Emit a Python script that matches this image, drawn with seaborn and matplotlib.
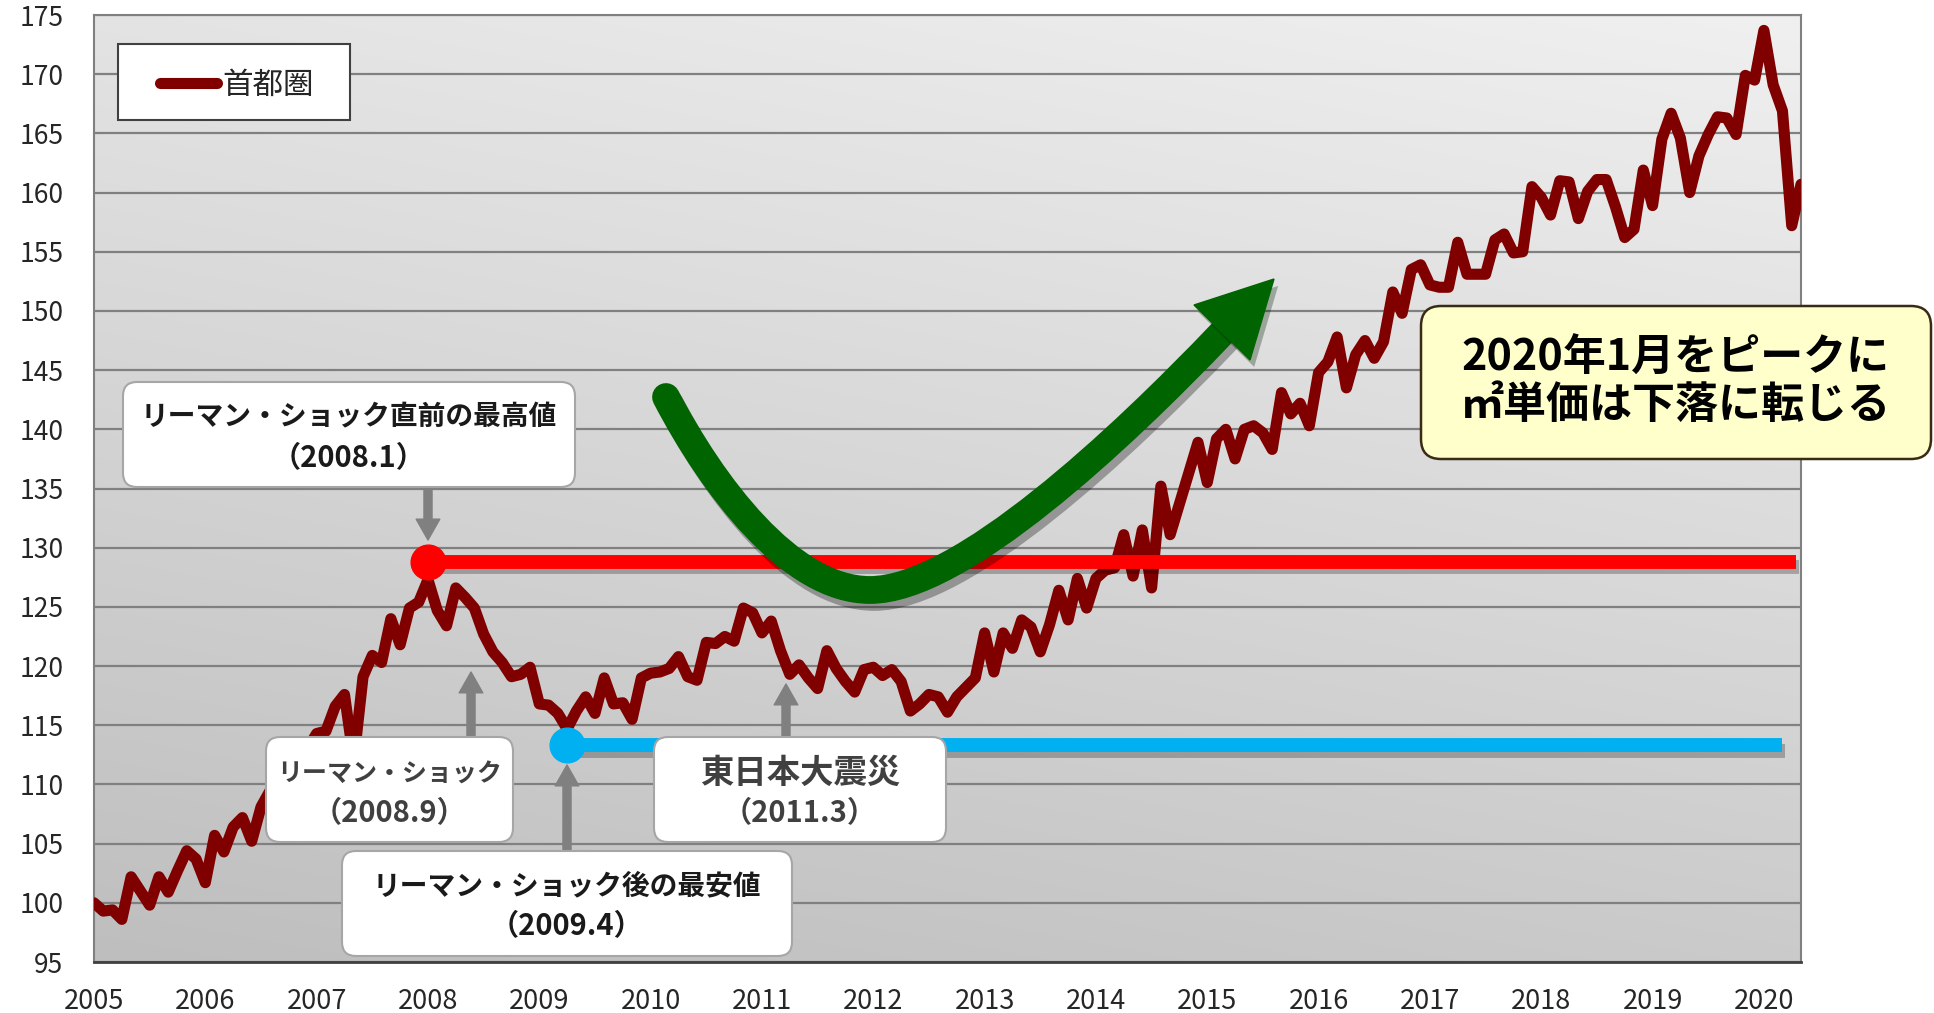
import numpy as np
import pandas as pd
import matplotlib
matplotlib.use('Agg')
import matplotlib.pyplot as plt
import matplotlib.patheffects as pe
from matplotlib.patches import FancyBboxPatch, FancyArrowPatch, PathPatch, Polygon
from matplotlib.path import Path
import seaborn as sns

# データ（2005年1月=100 の月次指数、2005.1〜2020.5）
month_idx = list(range(185))
price_index = [
    100.0, 99.3, 99.4, 98.6, 102.2, 101.0, 99.8, 102.2, 100.9, 102.7, 104.4, 103.7,   # 2005
    101.7, 105.7, 104.3, 106.4, 107.2, 105.2, 108.1, 109.5, 108.8, 111.0, 110.5, 113.0,  # 2006
    114.3, 114.5, 116.6, 117.6, 112.0, 119.1, 120.9, 120.3, 124.0, 121.8, 124.9, 125.4,  # 2007
    127.3, 124.7, 123.4, 126.6, 125.8, 124.9, 122.7, 121.2, 120.3, 119.1, 119.3, 119.9,  # 2008
    116.8, 116.7, 116.0, 114.7, 116.2, 117.4, 116.0, 119.0, 116.8, 116.9, 115.5, 119.0,  # 2009
    119.4, 119.5, 119.8, 120.8, 119.1, 118.8, 122.0, 121.9, 122.5, 122.1, 124.9, 124.5,  # 2010
    122.8, 123.8, 121.3, 119.3, 120.1, 119.0, 118.1, 121.3, 119.8, 118.7, 117.8, 119.7,  # 2011
    119.9, 119.2, 119.7, 118.7, 116.2, 116.8, 117.6, 117.4, 116.1, 117.4, 118.2, 119.0,  # 2012
    122.8, 119.5, 122.8, 121.5, 123.9, 123.3, 121.2, 123.5, 126.4, 123.9, 127.4, 124.9,  # 2013
    127.4, 128.1, 128.3, 131.1, 127.6, 131.5, 126.6, 135.2, 131.1, 133.7, 136.3, 138.9,  # 2014
    135.5, 139.2, 140.0, 137.5, 140.0, 140.3, 139.7, 138.3, 143.1, 141.3, 142.2, 140.3,  # 2015
    144.8, 145.7, 147.8, 143.5, 146.3, 147.5, 146.0, 147.4, 151.6, 149.8, 153.5, 153.9,  # 2016
    152.2, 152.0, 152.0, 155.8, 153.1, 153.1, 153.1, 156.0, 156.5, 154.9, 155.0, 160.5,  # 2017
    159.6, 158.1, 161.0, 160.9, 157.8, 160.1, 161.1, 161.1, 158.8, 156.2, 156.9, 161.9,  # 2018
    158.9, 164.5, 166.7, 164.6, 160.0, 163.1, 164.9, 166.4, 166.3, 164.9, 169.9, 169.5,  # 2019
    173.7, 169.1, 166.9, 157.2, 160.7,                                                   # 2020
]
year_labels = [str(y) for y in range(2005, 2021)]
year_ticks = [12 * k for k in range(len(year_labels))]
y_ticks = list(range(95, 176, 5))

# 目印の位置（月インデックス）と水準
peak_month = 36      # 2008.1
bottom_month = 51    # 2009.4
peak_level = 128.8
bottom_level = 113.3
red_end = 183.5
blue_end = 182

df = pd.DataFrame({'月': month_idx, '首都圏': price_index})

sns.set_style('white')
plt.rcParams['font.family'] = ['Noto Sans CJK JP', 'DejaVu Sans']

W, H = 1934, 1013
fig = plt.figure(figsize=(W / 100, H / 100), dpi=100)
ax = fig.add_axes([94 / W, 1 - 962 / H, 1707 / W, 947 / H])

# 背景のグラデーション
gx, gy = np.meshgrid(np.linspace(0, 1, 200), np.linspace(0, 1, 200))
shade = (190 + 50 * (0.75 * gy + 0.25 * gx)) / 255
ax.imshow(np.dstack([shade] * 3), extent=(0, 1, 0, 1), transform=ax.transAxes,
          origin='lower', aspect='auto', zorder=0, interpolation='bilinear')

# 折れ線
sns.lineplot(data=df, x='月', y='首都圏', color='#800000', linewidth=8,
             label='首都圏', ax=ax, zorder=3, solid_joinstyle='round',
             solid_capstyle='round')

shadow = [pe.SimpleLineShadow(offset=(2, -4), shadow_color='k', alpha=0.25), pe.Normal()]

# 最高値・最安値ライン
ax.plot([peak_month, red_end], [peak_level, peak_level], color='#FF0000', lw=10,
        solid_capstyle='butt', zorder=4, path_effects=shadow)
ax.plot([peak_month], [peak_level], 'o', color='#FF0000', ms=25, zorder=5)
ax.plot([bottom_month, blue_end], [bottom_level, bottom_level], color='#00B0F0', lw=10,
        solid_capstyle='butt', zorder=4, path_effects=shadow)
ax.plot([bottom_month], [bottom_level], 'o', color='#00B0F0', ms=25, zorder=5)

ax.set_xlim(0, 184)
ax.set_ylim(95, 175)
ax.set_xticks(year_ticks)
ax.set_xticklabels(year_labels)
ax.set_xticks(month_idx, minor=True)
ax.set_yticks(y_ticks)
ax.set_xlabel('')
ax.set_ylabel('')
ax.tick_params(axis='x', which='both', direction='in', length=6, width=1.2,
               color='#404040', labelsize=19.5, pad=19)
ax.tick_params(axis='y', length=0, labelsize=19, pad=22)
ax.set_axisbelow(True)
ax.yaxis.grid(True, color='#808080', lw=1.6)
ax.xaxis.grid(False)
for s in ['left', 'top', 'right']:
    ax.spines[s].set_color('#808080')
    ax.spines[s].set_linewidth(1.5)
ax.spines['bottom'].set_color('#404040')
ax.spines['bottom'].set_linewidth(2)


def fxy(x, y):
    return x / W, 1 - y / H


def ax_xy(x, y):
    return (x - 94) / 1707, 1 - (y - 15) / 947


def box(x0, y0, x1, y1, face, edge, r, lw=1.5, z=6):
    p = FancyBboxPatch((x0 / W, 1 - y1 / H), (x1 - x0) / W, (y1 - y0) / H,
                       boxstyle=f'round,pad=0,rounding_size={r / W}', mutation_aspect=W / H,
                       facecolor=face, edgecolor=edge, lw=lw, transform=fig.transFigure,
                       zorder=z)
    fig.add_artist(p)
    return p


def gray_arrow(x, y_tail, y_tip):
    a = FancyArrowPatch(fxy(x, y_tail), fxy(x, y_tip),
                        arrowstyle='simple,head_width=1.7,head_length=1.5,tail_width=0.58',
                        mutation_scale=10, color='#808080', shrinkA=0, shrinkB=0,
                        transform=fig.transFigure, zorder=5)
    fig.add_artist(a)


def label(x, y, s, size, color='#1a1a1a', weight='bold'):
    fig.text(x / W, 1 - y / H, s, ha='center', va='center', fontsize=size,
             color=color, fontweight=weight, zorder=7)


# 凡例（枠は別に描く）
legend_frame = FancyBboxPatch(ax_xy(118, 120), 232 / 1707, 76 / 947,
                              boxstyle='square,pad=0', facecolor='white',
                              edgecolor='#404040', lw=1.5, transform=ax.transAxes, zorder=6)
ax.add_patch(legend_frame)
leg = ax.legend(loc='center left', bbox_to_anchor=ax_xy(160, 85), borderaxespad=0,
                fontsize=22, handlelength=1.85, handletextpad=0.2, borderpad=0,
                frameon=False)
leg.set_zorder(7)
for h in leg.get_lines():
    h.set_linewidth(8)

# 吹き出し
box(123, 382, 575, 487, 'white', '#a6a6a6', 14)
label(349, 417, 'リーマン・ショック直前の最高値', 20)
label(349, 458, '（2008.1）', 21)
gray_arrow(428, 489, 540)

box(266, 737, 513, 842, 'white', '#a6a6a6', 14)
label(389.5, 775, 'リーマン・ショック', 18, color='#404040')
label(389.5, 813, '（2008.9）', 21, color='#404040')
gray_arrow(471, 736, 672)

box(342, 851, 792, 956, 'white', '#a6a6a6', 14)
label(567, 886, 'リーマン・ショック後の最安値', 20)
label(567, 926, '（2009.4）', 21)
gray_arrow(567, 851, 765)

box(654, 737, 946, 842, 'white', '#a6a6a6', 14)
label(800, 773, '東日本大震災', 24, color='#404040')
label(800, 813, '（2011.3）', 21, color='#404040')
gray_arrow(786, 736, 684)

box(1421, 306, 1931, 459, '#FFFFCC', '#3b2a14', 20, lw=1.8)
label(1676, 358, '2020年1月をピークに', 31, color='black')
label(1676, 405, '㎡単価は下落に転じる', 31, color='black')

# 緑の矢印（下落→回復）
pts = [(666, 397), (712, 485), (790, 590), (870, 590), (960, 590), (1120, 440), (1222, 333)]
codes = [Path.MOVETO] + [Path.CURVE4] * 6
green_path = Path([fxy(*p) for p in pts], codes)
g_shadow = [pe.SimpleLineShadow(offset=(3, -5), shadow_color='k', alpha=0.3), pe.Normal()]
fig.add_artist(PathPatch(green_path, facecolor='none', edgecolor='#006400', lw=20,
                         capstyle='round', transform=fig.transFigure, zorder=5,
                         path_effects=g_shadow))
head = Polygon([fxy(1274, 279), fxy(1194, 305), fxy(1250, 360)], closed=True,
               facecolor='#006400', edgecolor='#006400', transform=fig.transFigure,
               zorder=5, path_effects=[pe.SimplePatchShadow(offset=(3, -5), alpha=0.3), pe.Normal()])
fig.add_artist(head)

fig.savefig('out.png', dpi=100)
